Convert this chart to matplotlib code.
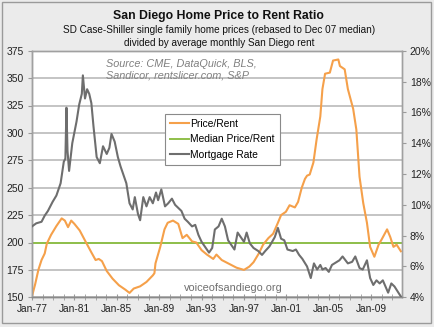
import matplotlib
matplotlib.use("Agg")
import matplotlib.pyplot as plt
from matplotlib.patches import Rectangle

plt.rcParams['font.family'] = ['Liberation Sans', 'DejaVu Sans']

# ---- data ----
price_rent_years = [1977.0, 1977.3, 1977.6, 1977.9, 1978.2, 1978.4, 1978.8, 1979.3, 1979.8, 1980.1,
                    1980.4, 1980.7, 1981.0, 1981.5, 1982.1, 1982.6, 1983.0, 1983.3, 1983.6, 1984.05,
                    1984.6, 1985.2, 1985.8, 1986.2, 1986.6, 1987.2, 1987.8, 1988.4, 1988.55, 1988.65,
                    1989.1, 1989.5, 1989.8, 1990.3, 1990.8, 1991.2, 1991.6, 1992.1, 1992.5, 1993.0,
                    1993.5, 1994.1, 1994.4, 1994.9, 1995.7, 1996.3, 1997.0, 1997.5, 1997.9, 1998.4,
                    1998.8, 1999.3, 1999.75, 2000.2, 2000.5, 2000.95, 2001.3, 2001.8, 2002.1, 2002.45,
                    2002.75, 2002.95, 2003.2, 2003.55, 2003.85, 2004.2, 2004.4, 2004.65, 2005.1, 2005.4,
                    2005.9, 2006.05, 2006.5, 2006.8, 2007.3, 2007.6, 2007.9, 2008.25, 2008.6, 2008.9,
                    2009.3, 2009.7, 2010.0, 2010.5, 2010.8, 2011.1, 2011.4, 2011.8]
price_rent = [151, 162, 175, 184, 190, 199, 207, 215, 222, 220,
              214, 220, 217, 211, 200, 191, 184, 185, 183, 174,
              167, 161, 157, 154, 158, 160, 164, 170, 172, 181,
              196, 212, 218, 220, 217, 204, 207, 201, 200, 193,
              189, 185, 189, 184, 180, 177, 175, 178, 182, 190,
              198, 204, 208, 218, 225, 228, 234, 232, 237, 250,
              258, 261, 262, 273, 294, 315, 340, 354, 355, 366,
              367, 361, 358, 340, 322, 303, 260, 236, 218, 196,
              187, 198, 203, 212, 205, 196, 198, 192]

median_price_rent = 200

mortgage_years = [1977.0, 1977.4, 1977.9, 1978.2, 1978.5, 1978.95, 1979.3, 1979.7, 1980.0, 1980.15,
                  1980.25, 1980.35, 1980.5, 1980.8, 1981.2, 1981.45, 1981.7, 1981.8, 1982.0, 1982.2,
                  1982.4, 1982.6, 1982.8, 1983.1, 1983.4, 1983.7, 1984.05, 1984.3, 1984.5, 1984.8,
                  1985.1, 1985.35, 1985.6, 1985.9, 1986.2, 1986.5, 1986.7, 1987.0, 1987.2, 1987.5,
                  1987.8, 1988.1, 1988.4, 1988.7, 1988.9, 1989.2, 1989.55, 1989.85, 1990.2, 1990.5,
                  1990.8, 1991.1, 1991.4, 1991.7, 1992.1, 1992.4, 1992.7, 1993.0, 1993.3, 1993.7,
                  1994.0, 1994.25, 1994.6, 1994.9, 1995.2, 1995.5, 1995.8, 1996.1, 1996.4, 1996.7,
                  1997.0, 1997.25, 1997.55, 1997.9, 1998.35, 1998.7, 1999.0, 1999.4, 1999.9, 2000.2,
                  2000.5, 2000.8, 2001.1, 2001.6, 2001.9, 2002.2, 2002.5, 2002.95, 2003.3, 2003.6,
                  2003.9, 2004.2, 2004.4, 2004.7, 2005.0, 2005.3, 2006.0, 2006.3, 2006.8, 2007.2,
                  2007.5, 2007.9, 2008.2, 2008.6, 2008.9, 2009.2, 2009.5, 2009.8, 2010.1, 2010.6,
                  2010.9, 2011.2, 2011.8]
mortgage_rate = [8.6, 8.8, 8.9, 9.3, 9.6, 10.2, 10.6, 11.4, 12.8, 13.0,
                 16.3, 13.5, 12.2, 14.0, 15.4, 16.5, 17.2, 18.4, 16.9, 17.5,
                 17.2, 16.6, 15.1, 13.1, 12.7, 13.8, 13.3, 13.7, 14.6, 14.1,
                 13.1, 12.5, 12.0, 11.4, 10.1, 9.7, 10.5, 9.4, 9.0, 10.5,
                 9.9, 10.5, 10.1, 10.8, 10.3, 11.0, 9.9, 10.1, 10.4, 10.0,
                 9.8, 9.6, 9.1, 8.9, 8.6, 8.7, 8.05, 7.6, 7.3, 6.9,
                 7.2, 8.4, 8.6, 9.1, 8.6, 7.7, 7.4, 7.1, 8.2, 7.9,
                 7.6, 8.2, 7.5, 7.2, 7.0, 6.75, 7.0, 7.3, 7.9, 8.5,
                 7.8, 7.7, 7.1, 7.0, 7.1, 6.75, 6.5, 6.0, 5.25, 6.2,
                 5.8, 6.1, 5.8, 5.9, 5.65, 6.1, 6.4, 6.65, 6.2, 6.3,
                 6.65, 5.9, 5.8, 6.4, 5.25, 4.8, 5.1, 4.9, 5.1, 4.3,
                 4.9, 4.7, 4.05]

left_ticks = [150, 175, 200, 225, 250, 275, 300, 325, 350, 375]
right_ticks = [4, 6, 8, 10, 12, 14, 16, 18, 20]
x_tick_years = [1977, 1981, 1985, 1989, 1993, 1997, 2001, 2005, 2009]
x_tick_labels = ['Jan-77', 'Jan-81', 'Jan-85', 'Jan-89', 'Jan-93', 'Jan-97', 'Jan-01', 'Jan-05', 'Jan-09']

# ---- figure ----
W, H = 434, 327
fig = plt.figure(figsize=(W / 100, H / 100), dpi=100)
fig.patch.set_facecolor('#ebebeb')
fig.patches.append(Rectangle((2 / W, 4 / H), (W - 5) / W, (H - 6) / H, transform=fig.transFigure,
                             facecolor='none', edgecolor='#9a9a9a', linewidth=1.0))

ax = fig.add_axes([32 / W, (H - 297.3) / H, (401.5 - 32) / W, (297.3 - 50.7) / H])
ax.set_facecolor('white')
ax2 = ax.twinx()

orange = '#f5a04a'
green = '#8fbf4a'
gray = '#6e6e6e'

ax.set_xlim(1977.0, 2011.86)
ax.set_ylim(150, 375)
ax2.set_ylim(4, 20)

for v in left_ticks:
    ax.axhline(v, color='#c4c4c4', lw=1.4, zorder=0)

l1, = ax.plot(price_rent_years, price_rent, color=orange, lw=1.5, zorder=3, label='Price/Rent')
l2 = ax.axhline(median_price_rent, color=green, lw=1.4, zorder=2, label='Median Price/Rent')
l3, = ax2.plot(mortgage_years, mortgage_rate, color=gray, lw=1.5, zorder=3, label='Mortgage Rate')

ax.set_yticks(left_ticks)
ax.set_yticklabels([str(v) for v in left_ticks], fontsize=7.5, color='#222222')
ax2.set_yticks(right_ticks)
ax2.set_yticklabels([f'{v}%' for v in right_ticks], fontsize=7.5, color='#222222')
ax.set_xticks(x_tick_years)
ax.set_xticklabels(x_tick_labels, fontsize=7.3, color='#222222')
ax.set_xticks(list(range(1977, 2012)), minor=True)

ax.tick_params(axis='x', which='both', direction='inout', length=4, color='#9a9a9a', pad=3)
ax.tick_params(axis='y', which='both', direction='out', length=3, color='#9a9a9a', pad=3)
ax2.tick_params(axis='y', direction='out', length=3, color='#9a9a9a', pad=3)

for a in (ax, ax2):
    for s in a.spines.values():
        s.set_color('#a0a0a0')
        s.set_linewidth(1.0)
ax.spines['left'].set_color('#8a8a8a')
ax.spines['bottom'].set_color('#8a8a8a')
ax2.spines['bottom'].set_color('#8a8a8a')

fig.text(218 / W, 1 - 16 / H, 'San Diego Home Price to Rent Ratio', ha='center', va='center',
         fontsize=8.8, fontweight='bold', color='#111111')
fig.text(219 / W, 1 - 30 / H, 'SD Case-Shiller single family home prices (rebased to Dec 07 median)',
         ha='center', va='center', fontsize=7.2, color='#111111')
fig.text(219 / W, 1 - 42.5 / H, 'divided by average monthly San Diego rent',
         ha='center', va='center', fontsize=7.2, color='#111111')

ax.text(0.199, 0.965, 'Source: CME, DataQuick, BLS,\nSandicor, rentslicer.com, S&P', transform=ax.transAxes,
        ha='left', va='top', fontsize=7.8, style='italic', color='#808080', linespacing=1.15)
ax.text(0.545, 0.038, 'voiceofsandiego.org', transform=ax.transAxes, ha='center', va='center',
        fontsize=7.9, color='#707070')

leg = ax2.legend(handles=[l1, l2, l3], loc='upper left', bbox_to_anchor=(0.36, 0.745),
                 fontsize=7.4, frameon=True, fancybox=False, handlelength=1.85, handletextpad=0.1,
                 labelspacing=0.55, borderpad=0.5, borderaxespad=0)
leg.get_frame().set_edgecolor('#8a8a8a')
leg.get_frame().set_linewidth(0.8)
leg.get_frame().set_facecolor('white')
leg.get_frame().set_alpha(1)

fig.savefig('out.png', dpi=100, facecolor=fig.get_facecolor())
